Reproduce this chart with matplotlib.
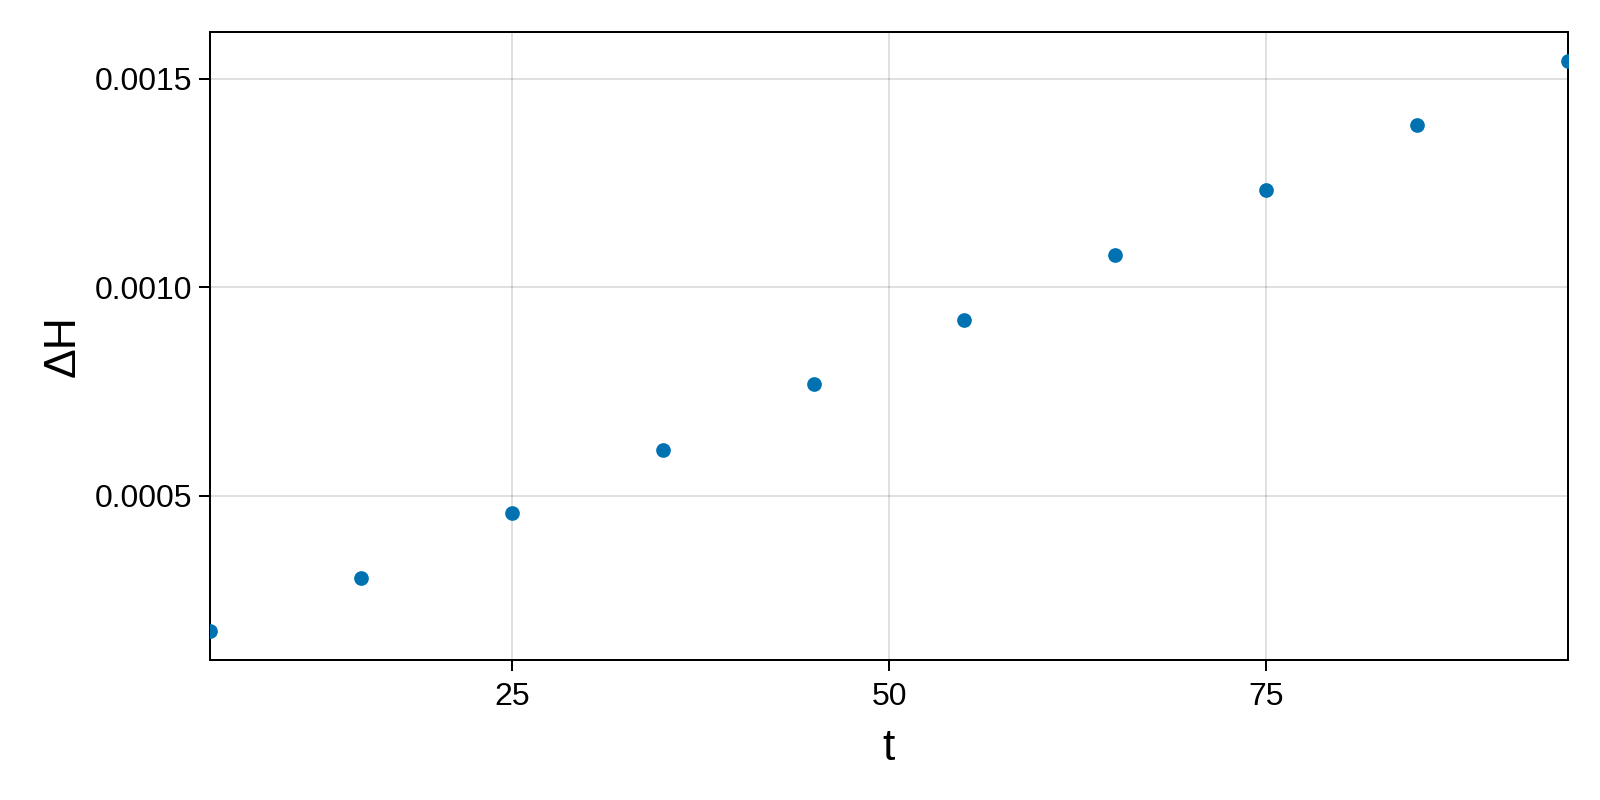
import matplotlib
matplotlib.use('Agg')
import matplotlib.pyplot as plt

# 데이터
t = [5, 15, 25, 35, 45, 55, 65, 75, 85, 95]
dH = [0.000174, 0.0003015, 0.000458, 0.00061, 0.000767,
      0.000922, 0.001078, 0.001233, 0.00139, 0.001544]
xticks = [25, 50, 75]
yticks = [0.0005, 0.0010, 0.0015]
ytick_labels = ['0.0005', '0.0010', '0.0015']

plt.rcParams['font.family'] = ['Liberation Sans', 'DejaVu Sans']

fig = plt.figure(figsize=(8, 4), dpi=200)
# 축 위치 (픽셀 기준)
ax = fig.add_axes([210/1600, 1-660/800, (1568-210)/1600, (660-32)/800])

ax.scatter(t, dH, s=28, color='#0072B2', linewidths=0, zorder=3)

ax.set_xlim(5, 95)
lo, hi = min(dH), max(dH)
pad = (hi - lo) * 0.05
ax.set_ylim(lo - pad, hi + pad)

ax.set_xticks(xticks)
ax.set_yticks(yticks)
ax.set_yticklabels(ytick_labels)
ax.tick_params(labelsize=11.5, length=3.8, width=0.72, direction='out')
ax.tick_params(axis='x', pad=4)
ax.tick_params(axis='y', pad=2.5)
ax.grid(True, color='black', alpha=0.12, linewidth=0.72)
ax.set_axisbelow(True)
for sp in ax.spines.values():
    sp.set_linewidth(0.72)

ax.set_xlabel('t', fontsize=16, labelpad=6)
ax.set_ylabel('ΔH', fontsize=16, labelpad=4)

fig.savefig('out.png', dpi=200)
